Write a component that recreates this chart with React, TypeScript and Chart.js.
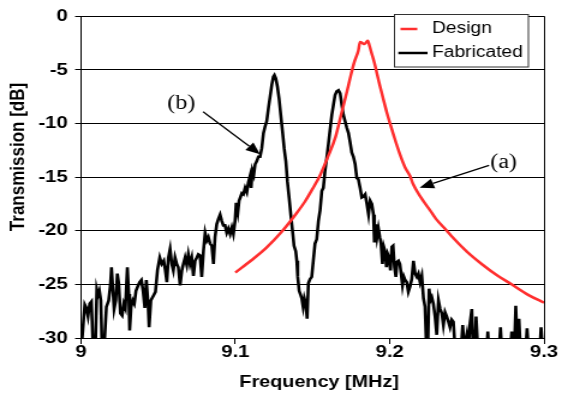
import React, { useEffect, useRef } from 'react';
import { Chart, registerables } from 'chart.js';

Chart.register(...registerables);

// ---------- data ----------
const seriesLabels = ['Design', 'Fabricated'];
const xTitle = 'Frequency [MHz]';
const yTitle = 'Transmission [dB]';
const xTickValues = [9, 9.1, 9.2, 9.3];
const xTickLabels = ['9', '9.1', '9.2', '9.3'];
const yTickValues = [-30, -25, -20, -15, -10, -5, 0];
const yTickLabels = ['-30', '-25', '-20', '-15', '-10', '-5', '0'];

// Design (simulated) response: [frequency MHz, transmission dB]
const designPoints: [number, number][] = [
  [9.100, -23.9], [9.110, -22.8], [9.120, -21.6], [9.130, -20.1], [9.140, -18.3],
  [9.145, -17.3], [9.150, -16.1], [9.155, -14.8], [9.160, -13.1], [9.165, -11.2],
  [9.169, -8.9], [9.172, -7.2], [9.175, -5.4], [9.177, -4.3], [9.1797, -3.2],
  [9.1808, -2.4], [9.1822, -2.5], [9.1836, -2.6], [9.1850, -2.4], [9.1858, -2.3],
  [9.1870, -2.8], [9.1884, -3.5], [9.190, -4.3], [9.193, -6.1], [9.196, -7.8],
  [9.198, -8.9], [9.200, -9.9], [9.203, -11.3], [9.2067, -12.9], [9.210, -14.1],
  [9.2132, -14.9], [9.215, -15.6], [9.220, -16.85], [9.2262, -18.1], [9.230, -18.9],
  [9.237, -20.0], [9.240, -20.5], [9.250, -21.95], [9.260, -23.15], [9.270, -24.2],
  [9.278, -24.9], [9.290, -26.0], [9.300, -26.7],
];

// Fabricated (measured) response: [frequency MHz, transmission dB]; values below -30 are clipped by the axis
const fabricatedPoints: [number, number][] = [
  [9.0002, -31], [9.0024, -26.9], [9.0034, -27.2], [9.0045, -28.0], [9.0056, -26.8],
  [9.0067, -26.6], [9.0078, -31], [9.0093, -31], [9.0102, -25.5], [9.0110, -26.0],
  [9.0119, -25.6], [9.0128, -26.5], [9.0136, -31], [9.0149, -31], [9.0164, -27.1],
  [9.0179, -26.5], [9.0190, -25.1], [9.0197, -23.4], [9.0205, -25.2], [9.0214, -27.3],
  [9.0225, -26.5], [9.0235, -24.0], [9.0244, -24.9], [9.0255, -27.7], [9.0266, -27.9],
  [9.0277, -26.8], [9.0287, -27.2], [9.0300, -23.4], [9.0309, -25.9], [9.0315, -29.3],
  [9.0324, -27.1], [9.0335, -26.5], [9.0345, -26.8], [9.0356, -25.6], [9.0367, -25.2],
  [9.0380, -24.8], [9.0391, -24.6], [9.0402, -25.6], [9.0413, -27.2], [9.0423, -24.6],
  [9.0434, -26.8], [9.0441, -29.0], [9.0452, -26.5], [9.0467, -26.1], [9.0482, -25.7],
  [9.0495, -23.7], [9.0510, -22.5], [9.0523, -23.1], [9.0536, -22.8], [9.0546, -23.7],
  [9.0556, -24.8], [9.0566, -22.5], [9.0577, -21.7], [9.0588, -23.1], [9.0598, -23.7],
  [9.0609, -22.5], [9.0620, -23.1], [9.0630, -23.4], [9.0642, -25.1], [9.0653, -23.7],
  [9.0663, -23.1], [9.0674, -22.5], [9.0685, -23.2], [9.0695, -22.2], [9.0706, -23.1],
  [9.0717, -22.5], [9.0728, -24.2], [9.0739, -22.8], [9.0750, -22.5], [9.0760, -22.2],
  [9.0771, -22.3], [9.0782, -24.3], [9.0793, -21.9], [9.0804, -20.2], [9.0815, -20.9],
  [9.0825, -20.6], [9.0836, -21.2], [9.0847, -21.4], [9.0858, -23.1], [9.0868, -20.6],
  [9.0879, -19.4], [9.0890, -18.9], [9.0901, -18.5], [9.0912, -19.1], [9.0922, -19.5],
  [9.0933, -19.5], [9.0944, -20.2], [9.0955, -19.8], [9.0966, -20.3], [9.0977, -19.7],
  [9.0987, -20.3], [9.0998, -19.1], [9.1005, -17.4], [9.1016, -18.3], [9.1024, -17.2],
  [9.1032, -16.9], [9.1042, -16.5], [9.1052, -16.6], [9.1063, -16.0], [9.1074, -16.4],
  [9.1084, -15.5], [9.1095, -14.9], [9.1102, -16.0], [9.1110, -14.4], [9.1119, -14.8],
  [9.1128, -13.8], [9.1139, -13.5], [9.1149, -13.1], [9.1160, -13.1], [9.1171, -12.3],
  [9.1182, -10.9], [9.1192, -10.3], [9.1203, -9.8], [9.1214, -8.6], [9.1225, -7.5],
  [9.1236, -6.4], [9.1246, -5.65], [9.1253, -5.5], [9.1262, -5.8], [9.1273, -6.6],
  [9.1283, -7.65], [9.1294, -9.2], [9.1305, -10.7], [9.1316, -12.3], [9.1327, -13.5],
  [9.1337, -15.4], [9.1348, -16.9], [9.1359, -18.5], [9.1370, -20.0], [9.1380, -21.4],
  [9.1391, -21.9], [9.1398, -22.8], [9.1404, -24.3], [9.1413, -25.6], [9.1421, -25.9],
  [9.1430, -26.3], [9.1439, -27.1], [9.1447, -26.3], [9.1456, -26.8], [9.1465, -28.2],
  [9.1473, -24.9], [9.1484, -24.5], [9.1495, -24.3], [9.1505, -22.8], [9.1516, -21.2],
  [9.1527, -20.8], [9.1538, -19.1], [9.1549, -18.1], [9.1560, -16.3], [9.1570, -16.0],
  [9.1581, -14.4], [9.1592, -13.2], [9.1603, -11.9], [9.1614, -10.5], [9.1625, -9.2],
  [9.1635, -8.3], [9.1646, -7.35], [9.1657, -7.0], [9.1668, -6.9], [9.1679, -7.2],
  [9.1690, -8.3], [9.1700, -9.2], [9.1711, -9.8], [9.1722, -10.4], [9.1733, -10.9],
  [9.1743, -11.7], [9.1754, -12.7], [9.1765, -13.1], [9.1776, -13.8], [9.1787, -15.1],
  [9.1797, -15.2], [9.1808, -16.0], [9.1819, -16.9], [9.1830, -16.8], [9.1841, -16.6],
  [9.1852, -17.5], [9.1863, -18.5], [9.1873, -17.2], [9.1884, -17.5], [9.1895, -18.5],
  [9.1901, -21.1], [9.1910, -19.4], [9.1918, -20.6], [9.1927, -19.8], [9.1936, -20.6],
  [9.1944, -21.2], [9.1953, -23.1], [9.1962, -21.5], [9.1970, -21.9], [9.1979, -23.4],
  [9.1988, -22.2], [9.1996, -22.5], [9.2005, -23.7], [9.2014, -21.5], [9.2022, -21.4],
  [9.2031, -23.4], [9.2040, -24.3], [9.2048, -22.9], [9.2057, -22.8], [9.2066, -23.1],
  [9.2074, -24.0], [9.2083, -25.1], [9.2092, -24.3], [9.2100, -24.6], [9.2111, -24.8],
  [9.2121, -25.7], [9.2132, -25.2], [9.2143, -24.5], [9.2154, -22.8], [9.2165, -24.0],
  [9.2176, -24.3], [9.2186, -24.0], [9.2197, -24.8], [9.2208, -24.2], [9.2219, -26.3],
  [9.2229, -27.1], [9.2238, -31], [9.2247, -31], [9.2255, -25.4], [9.2264, -26.5],
  [9.2273, -26.2], [9.2283, -26.8], [9.2294, -28.0], [9.2305, -29.7], [9.2316, -26.5],
  [9.2327, -27.3], [9.2338, -27.7], [9.2348, -28.8], [9.2359, -27.6], [9.2370, -28.0],
  [9.2381, -28.5], [9.2391, -29.0], [9.2402, -28.3], [9.2413, -28.5], [9.2424, -31],
  [9.2463, -31], [9.2473, -28.8], [9.2484, -31], [9.2500, -29.7], [9.2510, -31],
  [9.2521, -28.6], [9.2532, -27.3], [9.2540, -31], [9.2552, -31], [9.2560, -28.0],
  [9.2571, -31], [9.2629, -31], [9.2636, -29.4], [9.2643, -31], [9.2709, -31],
  [9.2718, -29.0], [9.2726, -31], [9.2782, -31], [9.2791, -29.4], [9.2800, -31],
  [9.2808, -31], [9.2817, -27.0], [9.2828, -31], [9.2838, -28.2], [9.2847, -31],
  [9.2882, -31], [9.2890, -29.1], [9.2899, -31], [9.2973, -31], [9.2981, -29.0],
  [9.2990, -31], [9.3000, -31],
];

// annotation labels with their text anchor, arrow tail and arrow tip (in data units)
const annotationLabels = ['(a)', '(b)'];
const annotationText: [number, number][] = [[9.2738, -13.7], [9.0650, -8.15]];
const annotationTail: [number, number][] = [[9.2644, -13.9], [9.0791, -8.9]];
const annotationTip: [number, number][] = [[9.2194, -16.0], [9.1160, -12.87]];

// ---------- styling ----------
const SANS = '"Liberation Sans", Arial, sans-serif';
const SERIF = '"Liberation Serif", "Times New Roman", serif';
const STRETCH = 1.2; // the reference is horizontally stretched
const CSS_W = 562;
const CSS_H = 394;
const CANVAS_W = Math.round(CSS_W / STRETCH);
const seriesColors = ['#ff2e2e', '#000000'];
const seriesWidths = [2.5, 2.6];

function drawArrow(ctx: CanvasRenderingContext2D, x1: number, y1: number, x2: number, y2: number) {
  const ang = Math.atan2(y2 - y1, x2 - x1);
  const headLen = 12;
  const headHalf = 5;
  const bx = x2 - headLen * Math.cos(ang);
  const by = y2 - headLen * Math.sin(ang);
  ctx.beginPath();
  ctx.moveTo(x1, y1);
  ctx.lineTo(bx, by);
  ctx.lineWidth = 1.3;
  ctx.strokeStyle = '#000';
  ctx.stroke();
  ctx.beginPath();
  ctx.moveTo(x2, y2);
  ctx.lineTo(bx + headHalf * Math.sin(ang), by - headHalf * Math.cos(ang));
  ctx.lineTo(bx - headHalf * Math.sin(ang), by + headHalf * Math.cos(ang));
  ctx.closePath();
  ctx.fillStyle = '#000';
  ctx.fill();
}

const decorPlugin = {
  id: 'decor',
  afterDraw(chart: any) {
    const { ctx, chartArea, scales } = chart;
    const xs = scales.x;
    const ys = scales.y;
    ctx.save();
    // right frame line of the plot area
    ctx.strokeStyle = '#000';
    ctx.lineWidth = 1;
    ctx.beginPath();
    ctx.moveTo(chartArea.right + 0.5, chartArea.top);
    ctx.lineTo(chartArea.right + 0.5, chartArea.bottom);
    ctx.stroke();

    // axis titles
    ctx.fillStyle = '#000';
    ctx.textAlign = 'center';
    ctx.textBaseline = 'middle';
    ctx.font = `bold 16.5px ${SANS}`;
    ctx.fillText(xTitle, 265.8, 382);
    ctx.save();
    ctx.translate(15.8, 157);
    ctx.rotate(-Math.PI / 2);
    ctx.font = `bold 17px ${SANS}`;
    ctx.fillText(yTitle, 0, 0);
    ctx.restore();

    // legend
    const lx = 328.5, ly = 14.5, lw = 111.5, lh = 52.5;
    ctx.fillStyle = '#fff';
    ctx.fillRect(lx, ly, lw, lh);
    ctx.strokeStyle = '#333';
    ctx.lineWidth = 1;
    ctx.strokeRect(lx, ly, lw, lh);
    const rowY = [29, 53];
    const sampleStart = [333.5, 331.7];
    const sampleEnd = [347.5, 356];
    chart.data.datasets.forEach((ds: any, i: number) => {
      ctx.beginPath();
      ctx.moveTo(sampleStart[i], rowY[i]);
      ctx.lineTo(sampleEnd[i], rowY[i]);
      ctx.strokeStyle = ds.borderColor;
      ctx.lineWidth = 2.5;
      ctx.stroke();
      ctx.fillStyle = '#000';
      ctx.textAlign = 'left';
      ctx.textBaseline = 'middle';
      ctx.font = `16px ${SANS}`;
      ctx.fillText(ds.label, 359.8, rowY[i]);
    });

    // annotations
    annotationLabels.forEach((lab, i) => {
      const tx = xs.getPixelForValue(annotationText[i][0]);
      const ty = ys.getPixelForValue(annotationText[i][1]);
      ctx.fillStyle = '#000';
      ctx.textAlign = 'center';
      ctx.textBaseline = 'middle';
      ctx.font = `20px ${SERIF}`;
      ctx.fillText(lab, tx, ty);
      drawArrow(
        ctx,
        xs.getPixelForValue(annotationTail[i][0]),
        ys.getPixelForValue(annotationTail[i][1]),
        xs.getPixelForValue(annotationTip[i][0]),
        ys.getPixelForValue(annotationTip[i][1]),
      );
    });
    ctx.restore();
  },
};

export default function App() {
  const canvasRef = useRef<HTMLCanvasElement | null>(null);

  useEffect(() => {
    document.body.style.margin = '0';
    const canvas = canvasRef.current;
    if (!canvas) return;
    const chart = new Chart(canvas, {
      type: 'line',
      data: {
        datasets: [
          {
            label: seriesLabels[0],
            data: designPoints.map(([x, y]) => ({ x, y })),
            borderColor: seriesColors[0],
            borderWidth: seriesWidths[0],
            pointRadius: 0,
            tension: 0.3,
            cubicInterpolationMode: 'monotone',
            fill: false,
          },
          {
            label: seriesLabels[1],
            data: fabricatedPoints.map(([x, y]) => ({ x, y })),
            borderColor: seriesColors[1],
            borderWidth: seriesWidths[1],
            pointRadius: 0,
            tension: 0,
            fill: false,
          },
        ],
      },
      options: {
        animation: false,
        responsive: false,
        devicePixelRatio: 1,
        events: [],
        layout: { padding: { left: 0, top: 14, right: 15, bottom: 0 } },
        plugins: {
          legend: { display: false },
          tooltip: { enabled: false },
          title: { display: false },
        },
        scales: {
          x: {
            type: 'linear',
            min: 9,
            max: 9.3,
            afterBuildTicks: (axis: any) => {
              axis.ticks = xTickValues.map((v) => ({ value: v }));
            },
            afterFit: (scale: any) => {
              scale.height = 56;
            },
            ticks: {
              autoSkip: false,
              maxRotation: 0,
              padding: -2,
              color: '#000',
              font: { family: SANS, size: 17, weight: 'bold' },
              callback: (v: any) => xTickLabels[xTickValues.indexOf(Number(v))] ?? '',
            },
            grid: {
              drawOnChartArea: false,
              drawTicks: true,
              tickLength: 6,
              color: '#000',
              lineWidth: 1,
            },
            border: { display: true, color: '#000', width: 1 },
          },
          y: {
            type: 'linear',
            min: -30,
            max: 0,
            afterBuildTicks: (axis: any) => {
              axis.ticks = yTickValues.map((v) => ({ value: v }));
            },
            afterFit: (scale: any) => {
              scale.width = 67.5;
            },
            ticks: {
              padding: 6,
              color: '#000',
              font: { family: SANS, size: 17, weight: 'bold' },
              callback: (v: any) => yTickLabels[yTickValues.indexOf(Number(v))] ?? '',
            },
            grid: {
              drawOnChartArea: true,
              drawTicks: true,
              tickLength: 5,
              color: '#000',
              lineWidth: 1,
            },
            border: { display: true, color: '#000', width: 1 },
          },
        },
      },
      plugins: [decorPlugin],
    } as any);
    return () => {
      chart.destroy();
    };
  }, []);

  return (
    <div style={{ width: CSS_W, height: CSS_H, background: '#fff' }}>
      <canvas
        ref={canvasRef}
        width={CANVAS_W}
        height={CSS_H}
        style={{ width: `${CSS_W}px`, height: `${CSS_H}px`, display: 'block' }}
      />
    </div>
  );
}
